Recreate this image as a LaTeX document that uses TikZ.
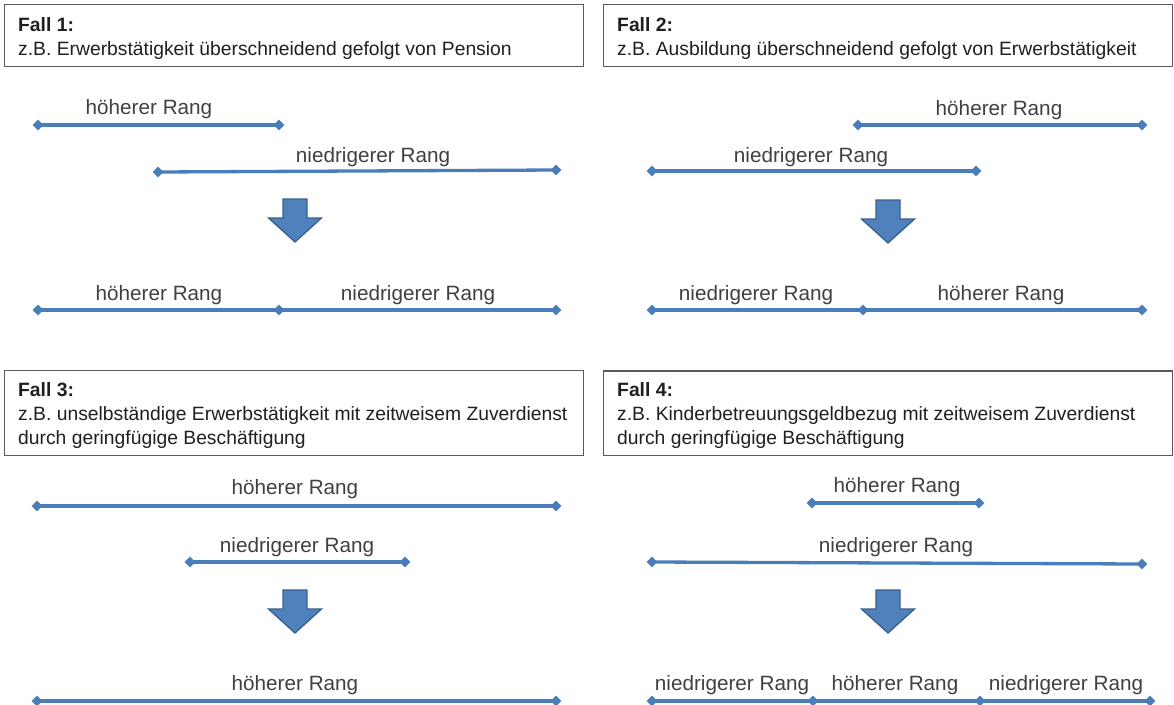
\documentclass[tikz,border=0pt]{standalone}
\usepackage{fontspec}
\setmainfont{Liberation Sans}
\usetikzlibrary{shapes.geometric}

\definecolor{rangblau}{HTML}{4A7EBB}
\definecolor{pfeilblau}{HTML}{4F81BD}
\definecolor{pfeilrand}{HTML}{3A5F8C}
\definecolor{textgrau}{HTML}{404040}
\definecolor{rahmengrau}{HTML}{595959}

\begin{document}
\begin{tikzpicture}[x=1pt, y=-1pt,
    punkt/.style={diamond, fill=rangblau, inner sep=0pt, minimum width=11pt, minimum height=11pt},
    rangline/.style={draw=rangblau, line width=3.3pt},
    rangtext/.style={anchor=base, inner sep=0pt, text=textgrau, font=\fontsize{20.7}{24}\selectfont},
    falltext/.style={anchor=base west, inner sep=0pt, text=black!88, font=\fontsize{19.3}{24}\selectfont},
    fallbox/.style={draw=rahmengrau, line width=1.5pt},
    pfeil/.style={fill=pfeilblau, draw=pfeilrand, line width=1.3pt, line join=miter}]

    \useasboundingbox (0,0) rectangle (1174,704);

    % Strecke mit Rauten an beiden Enden: Name, x1, y1, x2, y2
    \def\strecke#1#2#3#4#5{%
        \node[punkt] (#1a) at (#2, #3) {};%
        \node[punkt] (#1b) at (#4, #5) {};%
        \draw[rangline] (#1a.center) -- (#1b.center);%
    }

    % Blockpfeil nach unten: Mitte x, oberer Rand y
    \def\pfeil#1#2{%
        \draw[pfeil] (#1-12, #2) -- (#1+12, #2) -- (#1+12, #2+19) -- (#1+26.5, #2+19)
                     -- (#1, #2+43) -- (#1-26.5, #2+19) -- (#1-12, #2+19) -- cycle;%
    }

    % -- Fall 1: Erwerbstaetigkeit gefolgt von Pension --
    \draw[fallbox] (4.5, 4.7) rectangle (583.5, 66.7);
    \node[falltext] (f1titel) at (18, 31) {\bfseries Fall 1:};
    \node[falltext] (f1text) at (18, 55) {z.B. Erwerbstätigkeit überschneidend gefolgt von Pension};

    \strecke{h1}{38}{125}{279}{125}
    \node[rangtext] (h1text) at (149, 114) {höherer Rang};
    \strecke{n1}{158}{172}{556}{170}
    \node[rangtext] (n1text) at (373, 162) {niedrigerer Rang};

    \pfeil{295}{199}

    \node[punkt] (e1a) at (38, 310) {};
    \node[punkt] (e1m) at (279, 310) {};
    \node[punkt] (e1b) at (556, 310) {};
    \draw[rangline] (e1a.center) -- (e1m.center) -- (e1b.center);
    \node[rangtext] (e1h) at (159, 300) {höherer Rang};
    \node[rangtext] (e1n) at (418, 300) {niedrigerer Rang};

    % -- Fall 2: Ausbildung gefolgt von Erwerbstaetigkeit --
    \draw[fallbox] (603.5, 4.7) rectangle (1172.5, 66.7);
    \node[falltext] (f2titel) at (617, 31) {\bfseries Fall 2:};
    \node[falltext] (f2text) at (617, 55) {z.B. Ausbildung überschneidend gefolgt von Erwerbstätigkeit};

    \strecke{h2}{858}{125}{1142}{125}
    \node[rangtext] (h2text) at (999, 115) {höherer Rang};
    \strecke{n2}{652}{171}{976}{171}
    \node[rangtext] (n2text) at (811, 162) {niedrigerer Rang};

    \pfeil{888}{200}

    \node[punkt] (e2a) at (652, 310) {};
    \node[punkt] (e2m) at (863, 310) {};
    \node[punkt] (e2b) at (1142, 310) {};
    \draw[rangline] (e2a.center) -- (e2m.center) -- (e2b.center);
    \node[rangtext] (e2n) at (756, 300) {niedrigerer Rang};
    \node[rangtext] (e2h) at (1001, 300) {höherer Rang};

    % -- Fall 3: Zuverdienst waehrend Erwerbstaetigkeit --
    \draw[fallbox] (4.5, 370.5) rectangle (583.5, 455.5);
    \node[falltext] (f3titel) at (18, 396) {\bfseries Fall 3:};
    \node[falltext] (f3text) at (18, 420) {z.B. unselbständige Erwerbstätigkeit mit zeitweisem Zuverdienst};
    \node[falltext] (f3text2) at (18, 444) {durch geringfügige Beschäftigung};

    \strecke{h3}{37}{506}{556}{506}
    \node[rangtext] (h3text) at (295, 494) {höherer Rang};
    \strecke{n3}{190}{562}{405}{562}
    \node[rangtext] (n3text) at (297, 552) {niedrigerer Rang};

    \pfeil{295}{590}

    \strecke{e3}{37}{701}{556}{701}
    \node[rangtext] (e3h) at (295, 690) {höherer Rang};

    % -- Fall 4: Zuverdienst waehrend Kinderbetreuungsgeld --
    \draw[fallbox] (603.5, 371) rectangle (1172.5, 455.5);
    \node[falltext] (f4titel) at (617, 396) {\bfseries Fall 4:};
    \node[falltext] (f4text) at (617, 420) {z.B. Kinderbetreuungsgeldbezug mit zeitweisem Zuverdienst};
    \node[falltext] (f4text2) at (617, 444) {durch geringfügige Beschäftigung};

    \strecke{h4}{812}{503}{979}{503}
    \node[rangtext] (h4text) at (897, 492) {höherer Rang};
    \strecke{n4}{652}{562}{1142}{564}
    \node[rangtext] (n4text) at (896, 552) {niedrigerer Rang};

    \pfeil{888}{590}

    \node[punkt] (e4a) at (652, 701) {};
    \node[punkt] (e4m) at (813, 701) {};
    \node[punkt] (e4n) at (980, 701) {};
    \node[punkt] (e4b) at (1150, 701) {};
    \draw[rangline] (e4a.center) -- (e4m.center) -- (e4n.center) -- (e4b.center);
    \node[rangtext] (e4l) at (732, 690) {niedrigerer Rang};
    \node[rangtext] (e4h) at (895, 690) {höherer Rang};
    \node[rangtext] (e4r) at (1066, 690) {niedrigerer Rang};

\end{tikzpicture}
\end{document}
